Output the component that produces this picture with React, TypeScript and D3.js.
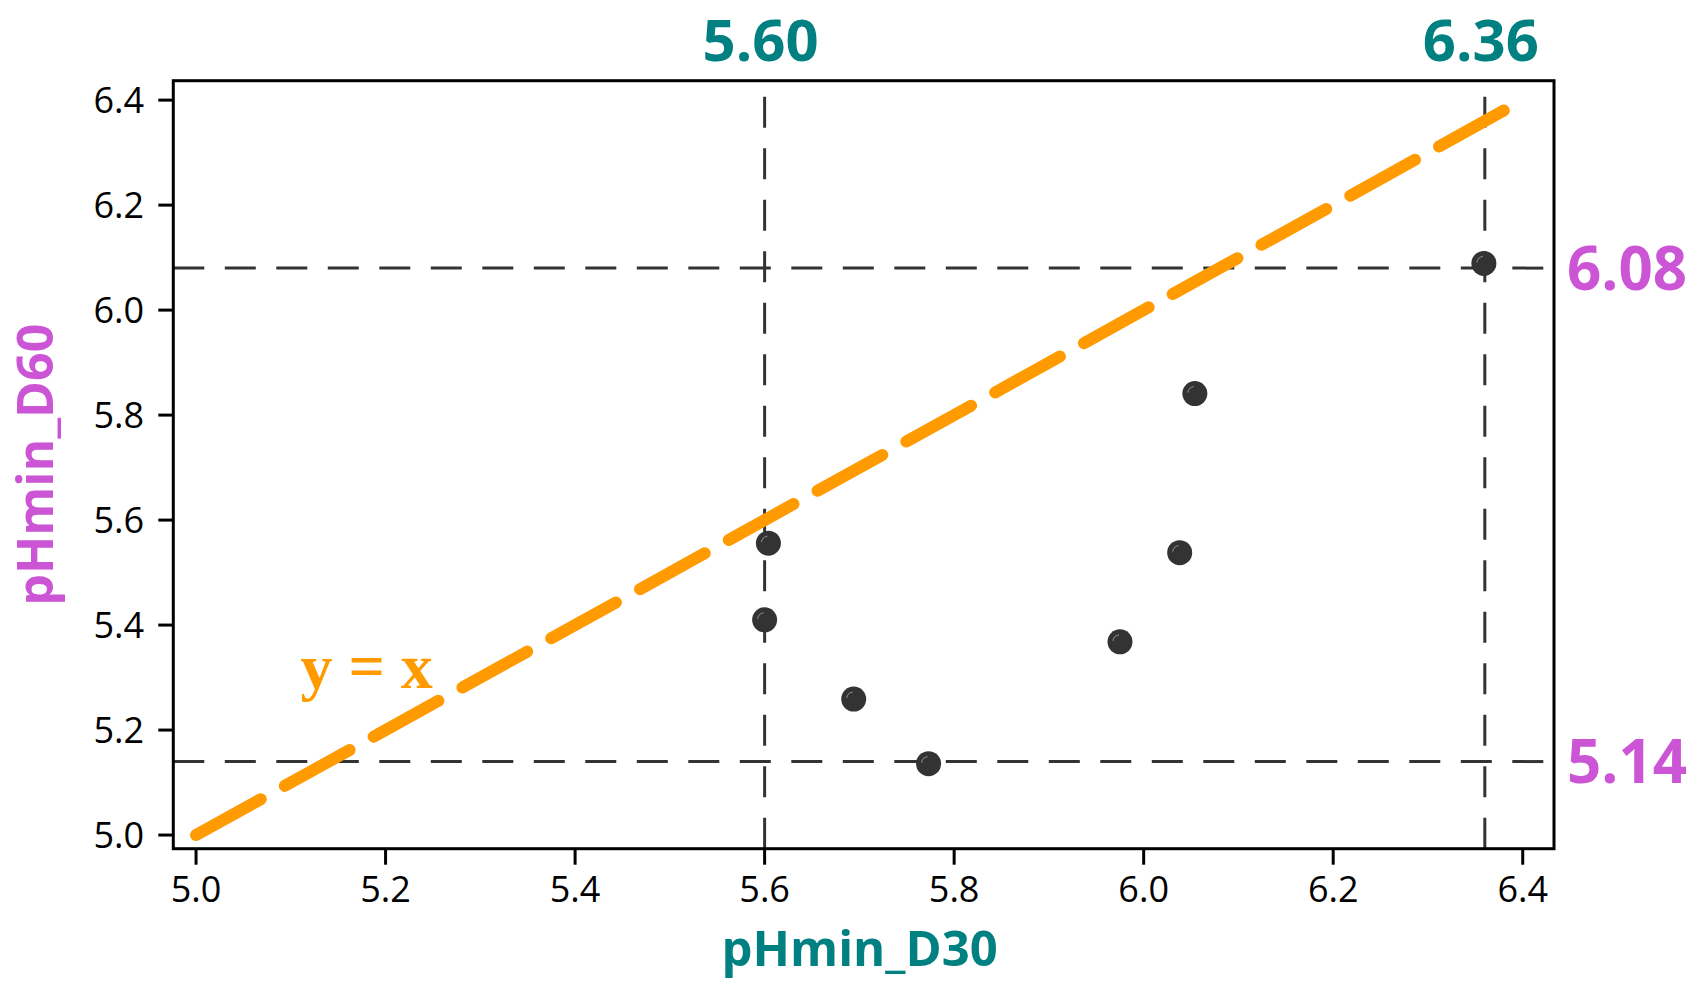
import React from "react";
import * as d3 from "d3";

// ---- data ----
const pHminD30 = [5.604, 5.6, 5.694, 5.773, 5.975, 6.038, 6.054, 6.359];
const pHminD60 = [5.556, 5.41, 5.259, 5.136, 5.368, 5.538, 5.841, 6.089];
const xTicks = [5.0, 5.2, 5.4, 5.6, 5.8, 6.0, 6.2, 6.4];
const yTicks = [5.0, 5.2, 5.4, 5.6, 5.8, 6.0, 6.2, 6.4];
const xDomain = [4.976, 6.433];
const yDomain = [4.974, 6.437];
const refX = [5.6, 6.36];
const refXLabels = ["5.60", "6.36"];
const refY = [5.14, 6.08];
const refYLabels = ["5.14", "6.08"];
const identityLine = [5.0, 6.38];
const xTitle = "pHmin_D30";
const yTitle = "pHmin_D60";
const lineLabel = "y = x";

// ---- layout ----
const W = 1696;
const H = 982;
const L = 173.3, R = 1554, T = 80.7, B = 848.7;
const TEAL = "#008080";
const PURPLE = "#cc55d6";
const ORANGE = "#ff9b00";
const DARK = "#333333";
const SANS = "'Open Sans', 'Noto Sans', sans-serif";

export default function App() {
  const x = d3.scaleLinear().domain(xDomain).range([L, R]);
  const y = d3.scaleLinear().domain(yDomain).range([B, T]);
  const fmt = d3.format(".1f");
  const idPath = d3.line<number>()(identityLine.map((v) => [x(v), y(v)] as [number, number])) || "";

  return (
    <svg
      width={W}
      height={H}
      style={{ position: "absolute", left: 0, top: 0, background: "#fff" }}
      xmlns="http://www.w3.org/2000/svg"
    >
      <rect x={0} y={0} width={W} height={H} fill="#fff" />

      {/* reference lines */}
      {refX.map((v, i) => (
        <line
          key={"rx" + i}
          x1={x(v)}
          x2={x(v)}
          y1={B}
          y2={T}
          stroke={DARK}
          strokeWidth={3}
          strokeDasharray="31 20.5"
        />
      ))}
      {refY.map((v, i) => (
        <line
          key={"ry" + i}
          x1={L}
          x2={R}
          y1={y(v)}
          y2={y(v)}
          stroke={DARK}
          strokeWidth={3}
          strokeDasharray="31 20.5"
        />
      ))}

      {/* identity line */}
      <path
        d={idPath}
        fill="none"
        stroke={ORANGE}
        strokeWidth={12}
        strokeLinecap="round"
        strokeDasharray="74 27.5"
      />
      <text
        x={x(5.18)}
        y={688}
        textAnchor="middle"
        fontFamily="'Liberation Serif', 'Times New Roman', serif"
        fontWeight="bold"
        fontSize={64}
        fill={ORANGE}
      >
        {lineLabel}
      </text>

      {/* points */}
      {pHminD30.map((v, i) => {
        const cx = x(v);
        const cy = y(pHminD60[i]);
        return (
          <g key={"p" + i}>
            <circle cx={cx} cy={cy} r={12.5} fill={DARK} />
            <path
              d={`M ${cx - 7} ${cy - 1} A 7 7 0 0 1 ${cx - 1} ${cy - 7}`}
              fill="none"
              stroke="#ffffff"
              strokeOpacity={0.45}
              strokeWidth={1}
            />
          </g>
        );
      })}

      {/* panel border */}
      <rect x={L} y={T} width={R - L} height={B - T} fill="none" stroke="#000" strokeWidth={3} />

      {/* y axis ticks */}
      {yTicks.map((t) => (
        <g key={"yt" + t}>
          <line x1={L - 15} x2={L} y1={y(t)} y2={y(t)} stroke="#000" strokeWidth={3} />
          <text
            x={144}
            y={y(t)}
            dy="0.36em"
            textAnchor="end"
            fontFamily={SANS}
            fontSize={36}
            fill="#000"
          >
            {fmt(t)}
          </text>
        </g>
      ))}

      {/* x axis ticks */}
      {xTicks.map((t) => (
        <g key={"xt" + t}>
          <line x1={x(t)} x2={x(t)} y1={B} y2={B + 16} stroke="#000" strokeWidth={3} />
          <text
            x={x(t)}
            y={902}
            textAnchor="middle"
            fontFamily={SANS}
            fontSize={36}
            fill="#000"
          >
            {fmt(t)}
          </text>
        </g>
      ))}

      {/* reference labels */}
      {refX.map((v, i) => (
        <text
          key={"rxl" + i}
          x={x(v) - 4}
          y={61}
          textAnchor="middle"
          fontFamily={SANS}
          fontWeight="bold"
          fontSize={58}
          fill={TEAL}
        >
          {refXLabels[i]}
        </text>
      ))}
      {refY.map((v, i) => (
        <text
          key={"ryl" + i}
          x={1567}
          y={y(v)}
          dy="0.36em"
          textAnchor="start"
          fontFamily={SANS}
          fontWeight="bold"
          fontSize={60}
          fill={PURPLE}
        >
          {refYLabels[i]}
        </text>
      ))}

      {/* axis titles */}
      <text
        x={(L + R) / 2 - 4}
        y={966}
        textAnchor="middle"
        fontFamily={SANS}
        fontWeight="bold"
        fontSize={49}
        fill={TEAL}
      >
        {xTitle}
      </text>
      <text
        transform={`translate(53, ${(T + B) / 2}) rotate(-90)`}
        textAnchor="middle"
        fontFamily={SANS}
        fontWeight="bold"
        fontSize={50}
        fill={PURPLE}
      >
        {yTitle}
      </text>
    </svg>
  );
}
